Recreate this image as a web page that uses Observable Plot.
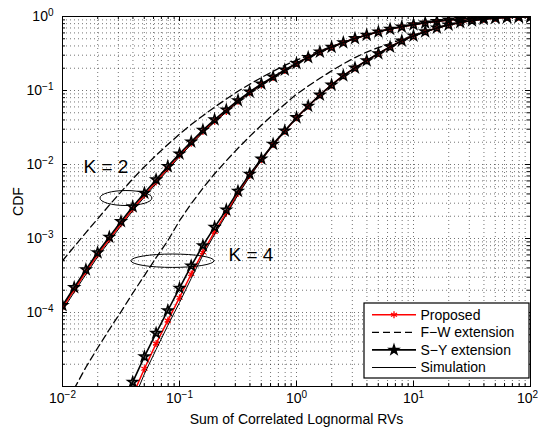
<!DOCTYPE html>
<html><head><meta charset="utf-8">
<script src="https://cdn.jsdelivr.net/npm/d3@7"></script>
<script src="https://cdn.jsdelivr.net/npm/@observablehq/plot@0.6"></script>
<style>
html,body{margin:0;padding:0;background:#fff;}
#chart{width:538px;height:430px;}
</style></head><body><div id="chart"></div>
<script>
// ---------- data ----------
const xValues = [0.01, 0.01259, 0.01585, 0.01995, 0.02512, 0.03162, 0.03981, 0.05012, 0.0631, 0.07943,
  0.1, 0.1259, 0.1585, 0.1995, 0.2512, 0.3162, 0.3981, 0.5012, 0.631, 0.7943,
  1, 1.259, 1.585, 1.995, 2.512, 3.162, 3.981, 5.012, 6.31, 7.943,
  10, 12.59, 15.85, 19.95, 25.12, 31.62, 39.81, 50.12, 63.1, 79.43, 100];

// K = 2
const k2SY = [1.245e-4, 2.18e-4, 3.80e-4, 6.46e-4, 1.047e-3, 1.70e-3, 2.69e-3, 4.12e-3, 6.24e-3, 9.44e-3,
  0.01396, 0.0203, 0.0292, 0.0403, 0.0547, 0.0733, 0.0959, 0.123, 0.153, 0.190,
  0.233, 0.281, 0.333, 0.386, 0.445, 0.505, 0.562, 0.621, 0.676, 0.726,
  0.776, 0.822, 0.863, 0.898, 0.925, 0.946, 0.964, 0.976, 0.984, 0.990, 0.994];
const k2Prop = [1.16e-4, 2.03e-4, 3.55e-4, 6.03e-4, 9.77e-4, 1.585e-3, 2.51e-3, 3.85e-3, 5.82e-3, 8.81e-3,
  0.01334, 0.01936, 0.0279, 0.0385, 0.0522, 0.0716, 0.0938, 0.120, 0.150, 0.186,
  0.232, 0.280, 0.332, 0.386, 0.445, 0.505, 0.562, 0.621, 0.676, 0.726,
  0.776, 0.822, 0.863, 0.898, 0.925, 0.946, 0.964, 0.976, 0.984, 0.990, 0.994];
const k2Sim = [1.07e-4, 1.88e-4, 3.27e-4, 5.62e-4, 9.12e-4, 1.48e-3, 2.36e-3, 3.63e-3, 5.52e-3, 8.41e-3,
  0.01274, 0.0186, 0.0269, 0.0373, 0.0511, 0.070, 0.0923, 0.119, 0.149, 0.185,
  0.232, 0.280, 0.332, 0.386, 0.445, 0.505, 0.562, 0.621, 0.676, 0.726,
  0.776, 0.822, 0.863, 0.898, 0.925, 0.946, 0.964, 0.976, 0.984, 0.990, 0.994];
const k2FW = [5.01e-4, 7.76e-4, 1.202e-3, 1.84e-3, 2.82e-3, 4.27e-3, 6.38e-3, 9.33e-3, 0.01334, 0.0186,
  0.0257, 0.0347, 0.0457, 0.0596, 0.0767, 0.0977, 0.1216, 0.1496, 0.182, 0.219,
  0.257, 0.2985, 0.345, 0.3936, 0.4467, 0.505, 0.562, 0.621, 0.676, 0.726,
  0.776, 0.822, 0.863, 0.898, 0.925, 0.946, 0.964, 0.976, 0.984, 0.990, 0.994];

// K = 4
const k4SY = [null, null, null, null, null, 5.13e-6, 1.148e-5, 2.54e-5, 5.25e-5, 1.064e-4,
  2.13e-4, 4.27e-4, 8.04e-4, 1.422e-3, 2.44e-3, 4.37e-3, 7.41e-3, 0.01189, 0.01884, 0.0285,
  0.0432, 0.0617, 0.0871, 0.1189, 0.1585, 0.2018, 0.254, 0.316, 0.389, 0.470,
  0.547, 0.624, 0.700, 0.771, 0.832, 0.881, 0.920, 0.951, 0.970, 0.984, 0.991];
const k4Prop = [null, null, null, null, null, null, 7.59e-6, 1.738e-5, 3.80e-5, 7.76e-5,
  1.585e-4, 3.31e-4, 6.53e-4, 1.23e-3, 2.21e-3, 4.07e-3, 7.08e-3, 0.01161, 0.01862, 0.0282,
  0.0429, 0.0615, 0.0869, 0.1189, 0.1585, 0.2018, 0.254, 0.316, 0.389, 0.470,
  0.547, 0.624, 0.700, 0.771, 0.832, 0.881, 0.920, 0.951, 0.970, 0.984, 0.991];
const k4Sim = [null, null, null, null, null, null, 6.17e-6, 1.479e-5, 3.16e-5, 6.68e-5,
  1.365e-4, 2.88e-4, 5.96e-4, 1.135e-3, 2.09e-3, 3.89e-3, 6.84e-3, 0.01135, 0.01832, 0.0279,
  0.0427, 0.0614, 0.0868, 0.1189, 0.1585, 0.2018, 0.254, 0.316, 0.389, 0.470,
  0.547, 0.624, 0.700, 0.771, 0.832, 0.881, 0.920, 0.951, 0.970, 0.984, 0.991];
const k4FW = [null, 9.33e-6, 1.82e-5, 3.31e-5, 5.89e-5, 1.023e-4, 1.82e-4, 3.16e-4, 5.50e-4, 9.33e-4,
  1.738e-3, 2.95e-3, 4.79e-3, 7.50e-3, 0.01122, 0.0166, 0.0240, 0.0339, 0.0473, 0.0653,
  0.0891, 0.1148, 0.1462, 0.1841, 0.2291, 0.2786, 0.3311, 0.3802, 0.4315, 0.4898,
  0.5559, 0.624, 0.700, 0.771, 0.832, 0.881, 0.920, 0.951, 0.970, 0.984, 0.991];

// ticks & labels
const xTicks = [0.01, 0.1, 1, 10, 100];
const xTickLabels = ["10^\u22122", "10^\u22121", "10^0", "10^1", "10^2"];
const yTicks = [1, 0.1, 0.01, 0.001, 0.0001];
const yTickLabels = ["10^0", "10^\u22121", "10^\u22122", "10^\u22123", "10^\u22124"];
const xTitle = "Sum of Correlated Lognormal RVs";
const yTitle = "CDF";
const legendLabels = ["Proposed", "F\u2212W extension", "S\u2212Y extension", "Simulation"];

// annotations (data coordinates)
const kLabels = [{x: 0.0151, y: 0.0093, text: "K = 2"}, {x: 0.2624, y: 5.94e-4, text: "K = 4"}];
const ellipseCenters = [{x: 0.0352, y: 0.00347}, {x: 0.088, y: 4.93e-4}];

// ---------- chart ----------
const rows = ys => xValues.map((x, i) => ({x, y: ys[i]})).filter(d => d.y != null);
const xAll = d3.scaleLog().domain([0.01, 100]).ticks();
const yAll = d3.scaleLog().domain([1e-5, 1]).ticks();
const xMinor = xAll.filter(v => !xTicks.some(t => Math.abs(t - v) / t < 1e-9));
const yMinor = yAll.filter(v => !yTicks.some(t => Math.abs(t - v) / t < 1e-9) && Math.abs(v - 1e-5) > 1e-12);
const yMajorAll = yTicks.concat([1e-5]);

const ellipseRadii = [[26, 7.5], [41.5, 6.7]];
function ellipseMark(index, scales) {
  const g = d3.create("svg:g").attr("fill", "none").attr("stroke", "#000").attr("stroke-width", 1);
  ellipseCenters.forEach((e, i) => {
    g.append("ellipse").attr("cx", scales.x(e.x)).attr("cy", scales.y(e.y))
      .attr("rx", ellipseRadii[i][0]).attr("ry", ellipseRadii[i][1]);
  });
  return g.node();
}

const starR = 3.1, astR = 3.3;
function legendMark(index, scales, values, dim) {
  const g = d3.create("svg:g").attr("text-anchor", "start");
  const right = dim.width - dim.marginRight - 1;
  const bottom = dim.height - dim.marginBottom - 8;
  const w = 165, h = 75;
  const x0 = right - w, y0 = bottom - h;
  g.append("rect").attr("x", x0).attr("y", y0).attr("width", w).attr("height", h)
    .attr("fill", "#fff").attr("stroke", "#000").attr("stroke-width", 1.2);
  const styles = [
    {stroke: "#f00", width: 1.5, dash: null, sym: d3.symbolAsterisk, r: astR},
    {stroke: "#000", width: 1.3, dash: "7,4", sym: null},
    {stroke: "#000", width: 1.6, dash: null, sym: d3.symbolStar, r: starR},
    {stroke: "#000", width: 1, dash: null, sym: null}
  ];
  legendLabels.forEach((name, i) => {
    const cy = y0 + 11.7 + i * 17.6;
    const s = styles[i];
    const ln = g.append("line").attr("x1", x0 + 8).attr("x2", x0 + 52).attr("y1", cy).attr("y2", cy)
      .attr("stroke", s.stroke).attr("stroke-width", s.width);
    if (s.dash) ln.attr("stroke-dasharray", s.dash);
    if (s.sym) {
      g.append("path").attr("transform", `translate(${x0 + 30},${cy})`)
        .attr("d", d3.symbol(s.sym, Math.PI * s.r * s.r)())
        .attr("fill", s.sym === d3.symbolStar ? "#000" : "none")
        .attr("stroke", s.stroke).attr("stroke-width", 1.3);
    }
    g.append("text").attr("x", x0 + 56.5).attr("y", cy).attr("dy", "0.35em")
      .attr("text-anchor", "start").attr("font-size", 14).attr("fill", "#000").text(name);
  });
  return g.node();
}

const gridStyle = {stroke: "#000", strokeOpacity: 0.55, strokeDasharray: "1,3", strokeWidth: 1};
const plot = Plot.plot({
  width: 538, height: 430,
  marginLeft: 62, marginRight: 8, marginTop: 16, marginBottom: 44,
  style: {fontFamily: "'Liberation Sans', Arial, Helvetica, sans-serif", fontSize: "14px", background: "#fff", overflow: "visible"},
  x: {type: "log", domain: [0.01, 100]},
  y: {type: "log", domain: [1e-5, 1]},
  marks: [
    Plot.ruleX(xAll, {...gridStyle}),
    Plot.ruleY(yAll, {...gridStyle}),
    // inward ticks
    Plot.ruleX(xTicks, {insetTop: 365, stroke: "#000"}),
    Plot.ruleX(xTicks, {insetBottom: 365, stroke: "#000"}),
    Plot.ruleX(xMinor, {insetTop: 367, stroke: "#000"}),
    Plot.ruleX(xMinor, {insetBottom: 367, stroke: "#000"}),
    Plot.ruleY(yMajorAll, {insetRight: 463, stroke: "#000"}),
    Plot.ruleY(yMajorAll, {insetLeft: 463, stroke: "#000"}),
    Plot.ruleY(yMinor, {insetRight: 465, stroke: "#000"}),
    Plot.ruleY(yMinor, {insetLeft: 465, stroke: "#000"}),
    // F-W extension
    Plot.line(rows(k2FW), {x: "x", y: "y", stroke: "#000", strokeWidth: 1.3, strokeDasharray: "7,4", clip: true}),
    Plot.line(rows(k4FW), {x: "x", y: "y", stroke: "#000", strokeWidth: 1.3, strokeDasharray: "7,4", clip: true}),
    // Proposed
    Plot.line(rows(k2Prop), {x: "x", y: "y", stroke: "#f00", strokeWidth: 1.5, clip: true}),
    Plot.line(rows(k4Prop), {x: "x", y: "y", stroke: "#f00", strokeWidth: 1.5, clip: true}),
    Plot.dot(rows(k2Prop), {x: "x", y: "y", symbol: "asterisk", stroke: "#f00", strokeWidth: 1.3, r: astR, clip: true}),
    Plot.dot(rows(k4Prop), {x: "x", y: "y", symbol: "asterisk", stroke: "#f00", strokeWidth: 1.3, r: astR, clip: true}),
    // S-Y extension
    Plot.line(rows(k2SY), {x: "x", y: "y", stroke: "#000", strokeWidth: 1.6, clip: true}),
    Plot.line(rows(k4SY), {x: "x", y: "y", stroke: "#000", strokeWidth: 1.6, clip: true}),
    Plot.dot(rows(k2SY), {x: "x", y: "y", symbol: "star", stroke: "#000", fill: "#000", fillOpacity: 0.45, strokeWidth: 1.5, r: starR, clip: true}),
    Plot.dot(rows(k4SY), {x: "x", y: "y", symbol: "star", stroke: "#000", fill: "#000", fillOpacity: 0.45, strokeWidth: 1.5, r: starR, clip: true}),
    // Simulation
    Plot.line(rows(k2Sim), {x: "x", y: "y", stroke: "#000", strokeWidth: 1, clip: true}),
    Plot.line(rows(k4Sim), {x: "x", y: "y", stroke: "#000", strokeWidth: 1, clip: true}),
    // annotations
    ellipseMark,
    Plot.text(kLabels, {x: "x", y: "y", text: "text", textAnchor: "start", fontSize: 19, fill: "#000"}),
    legendMark,
    Plot.frame({stroke: "#000", strokeWidth: 1}),
    // axes
    Plot.axisX(xTicks, {anchor: "bottom", tickSize: 0, tickPadding: 7, label: null, fontSize: 14,
      tickFormat: d => xTickLabels[xTicks.indexOf(d)]}),
    Plot.axisY(yTicks, {anchor: "left", tickSize: 0, tickPadding: 9, label: null, fontSize: 14,
      tickFormat: d => yTickLabels[yTicks.indexOf(d)]}),
    Plot.text([xTitle], {frameAnchor: "bottom", lineAnchor: "middle", textAnchor: "middle", dy: 33, text: d => d, fontSize: 14, fill: "#000"}),
    Plot.text([yTitle], {frameAnchor: "left", lineAnchor: "middle", textAnchor: "middle", dx: -44, rotate: -90, text: d => d, fontSize: 14, fill: "#000"})
  ]
});

// superscript exponents
plot.querySelectorAll("text").forEach(t => {
  const s = t.textContent;
  if (!s.includes("^")) return;
  const [base, exp] = s.split("^");
  while (t.firstChild) t.removeChild(t.firstChild);
  t.appendChild(document.createTextNode(base));
  const ts = document.createElementNS("http://www.w3.org/2000/svg", "tspan");
  ts.setAttribute("dy", "-0.5em");
  ts.setAttribute("font-size", "10");
  ts.textContent = exp;
  t.appendChild(ts);
  // keep the last x label inside the image edge
  if (s === xTickLabels[xTickLabels.length - 1]) t.setAttribute("dx", "-3");
});

document.getElementById("chart").appendChild(plot);
</script>
</body></html>
